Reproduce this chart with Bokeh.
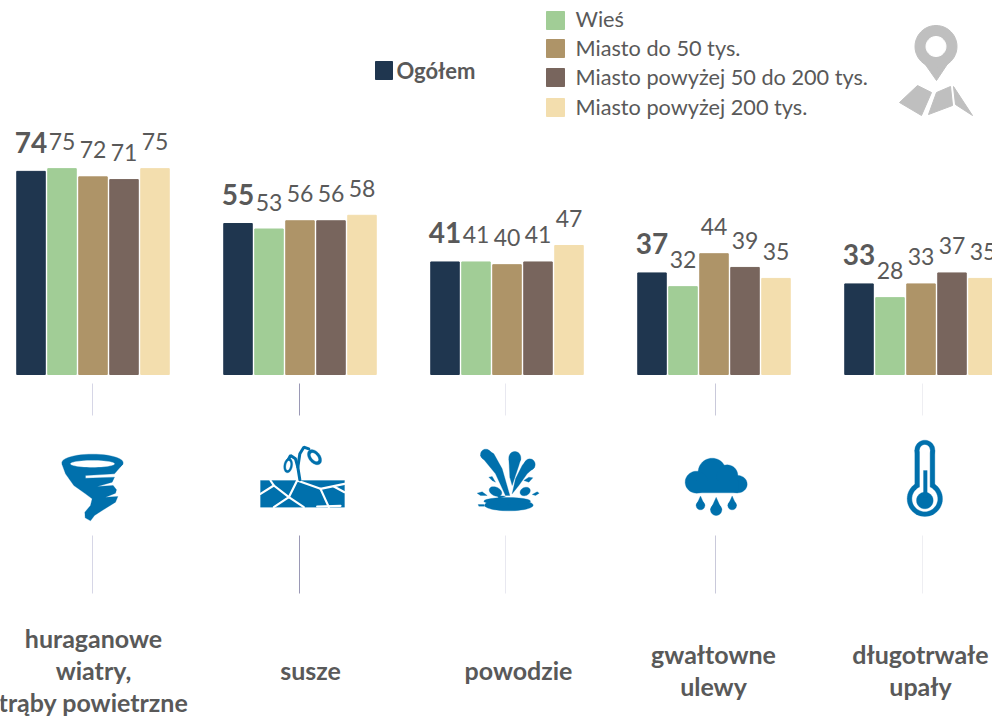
import numpy as np
from bokeh.embed import file_html
from bokeh.models import Range1d
from bokeh.plotting import figure
from bokeh.resources import INLINE
from bokeh.core.properties import value

# ---- data ----
categories = [["huraganowe", "wiatry,", "trąby powietrzne"], ["susze"], ["powodzie"],
              ["gwałtowne", "ulewy"], ["długotrwałe", "upały"]]
series_names = ["Ogółem", "Wieś", "Miasto do 50 tys.", "Miasto powyżej 50 do 200 tys.", "Miasto powyżej 200 tys."]
ogolem = [74, 55, 41, 37, 33]
wies = [75, 53, 41, 32, 28]
miasto_50 = [72, 56, 40, 44, 33]
miasto_50_200 = [71, 56, 41, 39, 37]
miasto_200 = [75, 58, 47, 35, 35]
series = [ogolem, wies, miasto_50, miasto_50_200, miasto_200]
colors = ["#1F364F", "#A1CD96", "#AE9468", "#78655D", "#F3DEAE"]

# ---- layout ----
W, H = 992, 716
BASE, PXU = 374, 2.745
FONT = value("Lato")
GREY = "#595959"
BLUE = "#0070AC"
group_left, group_step, bar_step, bar_w = 30.5, 207, 31, 28.5

p = figure(width=W, height=H, output_backend="svg", toolbar_location=None,
           x_range=Range1d(0, W), y_range=Range1d(H, 0), min_border=0,
           outline_line_color=None)
p.axis.visible = False
p.grid.visible = False
p.extra_y_ranges["val"] = Range1d(-(H - BASE) / PXU, BASE / PXU)

# bars + labels
for s, (vals, col) in enumerate(zip(series, colors)):
    xs = [group_left + g * group_step + s * bar_step for g in range(len(vals))]
    p.vbar(x=xs, top=vals, bottom=0, width=bar_w, color=col, y_range_name="val")
    bold = s == 0
    p.text(x=xs, y=vals, text=[str(v) for v in vals], y_range_name="val",
           y_offset=-29 if bold else -27, text_align="center", text_baseline="middle",
           text_font=FONT, text_font_size="28px" if bold else "23px",
           text_font_style="bold" if bold else "normal", text_color=GREY)

# legend
lx, ly, ty = [546, 546, 546, 546], [20, 48, 77, 107], [18, 47, 76, 106]
for i in range(4):
    p.quad(left=lx[i], right=lx[i] + 18, top=ly[i] - 9, bottom=ly[i] + 9, color=colors[i + 1])
    p.text(x=[575], y=[ty[i]], text=[series_names[i + 1]], text_font=FONT, text_font_size="21.7px",
           text_baseline="middle", text_color=GREY)
p.quad(left=375, right=392, top=61, bottom=79, color=colors[0])
p.text(x=[396], y=[69.5], text=[series_names[0]], text_font=FONT, text_font_size="22px",
       text_font_style="bold", text_baseline="middle", text_color=GREY)


def ell(cx, cy, rx, ry, rot=0.0, n=48):
    t = np.linspace(0, 2 * np.pi, n, endpoint=False)
    a = np.radians(rot)
    x, y = rx * np.cos(t), ry * np.sin(t)
    return cx + x * np.cos(a) - y * np.sin(a), cy + x * np.sin(a) + y * np.cos(a)


def fill(ox, oy, shapes, color):
    for sx, sy in shapes:
        p.patch(ox + np.asarray(sx) / 3, oy + np.asarray(sy) / 3, color=color, line_color=color, line_width=0.3)


def poly(*pts):
    return [q[0] for q in pts], [q[1] for q in pts]


def lines(ox, oy, segs, color, w):
    for s in segs:
        xs, ys = poly(*s)
        p.line(ox + np.asarray(xs) / 3, oy + np.asarray(ys) / 3, line_color=color, line_width=w, line_cap="round")


# separators
sep_x = [92, 299, 505, 715, 922]
sep_c = ["#D6D6E6", "#9A98B5", "#E8E8F0", "#C9C9DA", "#EEEEF2"]
for x, c in zip(sep_x, sep_c):
    p.segment(x0=[x, x], x1=[x, x], y0=[383, 535], y1=[415, 593], line_color=c, line_width=1)

# tornado
O = (40, 430)
fill(*O, [ell(156, 97, 92, 26), poly((64, 100), (75, 130), (100, 165), (135, 190), (155, 205), (150, 225), (133, 245),
     (134, 262), (150, 271), (162, 255), (185, 240), (225, 215), (232, 198), (195, 200), (225, 188), (228, 178),
     (218, 165), (170, 168), (215, 155), (222, 140), (135, 143), (135, 135), (222, 130), (248, 100))], BLUE)
fill(*O, [ell(156, 100, 66, 10)], "white")

# drought
fill(*O, [poly((660, 150), (912, 150), (912, 230), (660, 230))], BLUE)
lines(*O, [[(690, 150), (700, 165), (660, 190)], [(700, 165), (745, 200), (700, 230)], [(770, 150), (745, 200)],
           [(770, 150), (840, 175), (865, 230)], [(840, 175), (912, 160)], [(880, 168), (912, 185)],
           [(745, 200), (790, 230)], [(830, 228), (900, 226)]], "white", 2.2)
lines(*O, [[(778, 148), (772, 110), (778, 70), (790, 50), (805, 55)], [(772, 110), (765, 85), (750, 75), (742, 90)]], BLUE, 3)
fill(*O, [ell(822, 80, 26, 17, 50), ell(743, 105, 13, 22, 10)], BLUE)
fill(*O, [ell(822, 80, 15, 8, 50), ell(743, 105, 6, 14, 10)], "white")

# flood
O2 = (460, 430)
fill(*O2, [ell(145, 224, 73, 17), ell(140, 212, 70, 11),
           ell(76, 72, 16, 16), ell(163, 82, 18, 19), ell(208, 102, 16, 17),
           poly((60, 75), (85, 60), (100, 70), (125, 115), (148, 195), (135, 195), (105, 130)),
           poly((145, 85), (181, 85), (175, 105), (165, 135), (155, 165), (148, 140)),
           poly((155, 190), (165, 145), (185, 105), (196, 91), (222, 110), (200, 130), (175, 165)),
           poly((85, 140), (95, 138), (105, 155), (95, 150)), poly((190, 150), (205, 140), (217, 142), (205, 155)),
           poly((50, 188), (65, 184), (80, 195), (60, 195)), poly((215, 192), (230, 184), (236, 188), (225, 195)),
           poly((53, 222), (70, 222), (72, 227), (55, 227)),
           ell(105, 183, 20, 13, 25), ell(194, 183, 16, 12, -25),
           poly((110, 195), (135, 197), (115, 205))], BLUE)

# rain
fill(*O2, [ell(755, 125, 42, 42), ell(800, 135, 32, 32), ell(708, 155, 34, 33), ell(832, 161, 28, 26),
           poly((708, 150), (832, 150), (832, 187), (708, 187))], BLUE)
for cx, cy, r in [(720, 225, 13), (767, 238, 17), (815, 225, 13)]:
    top = cy - 2.2 * r
    ex, ey = ell(cx, cy, r, r)
    fill(*O2, [(ex, ey), poly((cx - r, cy), (cx, top), (cx + r, cy))], BLUE)

# thermometer
O3 = (880, 420)
fill(*O3, [ell(133, 235, 53, 53), ell(133, 89, 30, 30), poly((103, 89), (163, 89), (163, 220), (103, 220))], BLUE)
fill(*O3, [ell(133, 235, 38, 38), ell(133, 88, 15, 15), poly((118, 88), (148, 88), (148, 220), (118, 220))], "white")
fill(*O3, [ell(133, 240, 25, 25), poly((129, 150), (140, 150), (140, 230), (129, 230))], BLUE)

# map marker
GR = "#BFBFBF"
p.patch(*poly((915, 50), (956, 50), (936, 80)), color=GR)
p.patch(*ell(935.5, 46, 21, 21), color=GR)
p.patch(*ell(935.5, 46, 10, 10), color="white")
for pts in [[(899, 102), (917, 85), (931, 92), (921, 115)], [(928, 114), (936, 92), (950, 86), (952, 105)],
            [(953, 86), (972, 115), (955, 104)]]:
    p.patch(*poly(*pts), color=GR)

# category labels
cat_x = [93, 310, 518, 713, 920]
cat_y = {3: [637, 669, 701], 1: [669], 2: [653, 685]}
for cx, lab in zip(cat_x, categories):
    p.text(x=[cx] * len(lab), y=cat_y[len(lab)], text=lab, text_align="center", text_baseline="middle",
           text_font=FONT, text_font_size="25px", text_font_style="bold", text_color=GREY)

open("out.html", "w").write(file_html(p, INLINE))
